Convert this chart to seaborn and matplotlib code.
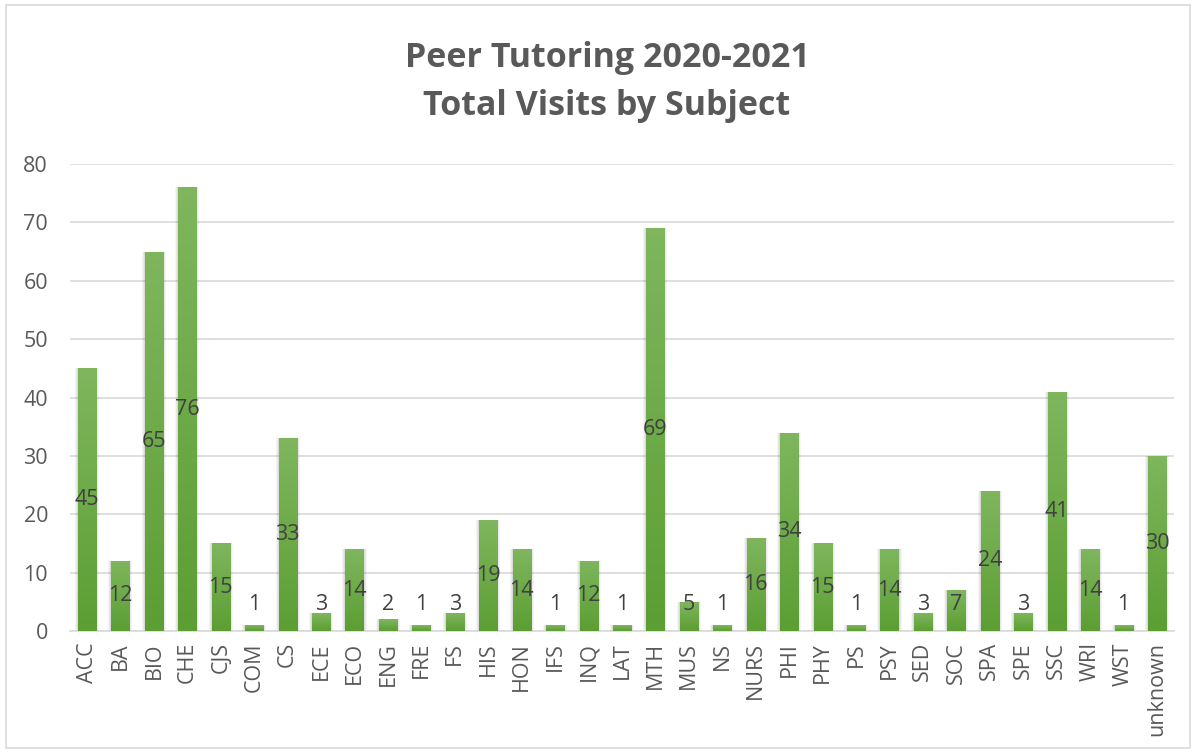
import numpy as np
import pandas as pd
import matplotlib
matplotlib.use("Agg")
import matplotlib.pyplot as plt
import seaborn as sns
from matplotlib.patches import Rectangle
from matplotlib.colors import LinearSegmentedColormap

subjects = ["ACC", "BA", "BIO", "CHE", "CJS", "COM", "CS", "ECE", "ECO", "ENG",
            "FRE", "FS", "HIS", "HON", "IFS", "INQ", "LAT", "MTH", "MUS", "NS",
            "NURS", "PHI", "PHY", "PS", "PSY", "SED", "SOC", "SPA", "SPE", "SSC",
            "WRI", "WST", "unknown"]
visits = [45, 12, 65, 76, 15, 1, 33, 3, 14, 2,
          1, 3, 19, 14, 1, 12, 1, 69, 5, 1,
          16, 34, 15, 1, 14, 3, 7, 24, 3, 41,
          14, 1, 30]
y_ticks = [0, 10, 20, 30, 40, 50, 60, 70, 80]

df = pd.DataFrame({"subject": subjects, "visits": visits})

sns.set_theme(style="white")
plt.rcParams["font.family"] = ["Open Sans", "DejaVu Sans"]

W, H = 1195, 753
fig = plt.figure(figsize=(W / 100, H / 100), dpi=100)
ax = fig.add_axes([70.3 / W, (H - 631) / H, (1173.7 - 70.3) / W, (631 - 164) / H])

sns.barplot(data=df, x="subject", y="visits", color="#70ad47", width=0.54,
            saturation=1, ax=ax, zorder=3)

# vertical gradient fill for each bar, with a soft shadow at its sides
grad = LinearSegmentedColormap.from_list("g", ["#5c9e33", "#7fb65e"])
gimg = np.linspace(0, 1, 256).reshape(-1, 1)
for p in list(ax.patches):
    x0, w, h = p.get_x(), p.get_width(), p.get_height()
    for k, a in enumerate([0.04, 0.05, 0.06]):
        pad = 0.03 * (3 - k)
        sh = Rectangle((x0 - pad, 0), w + 2 * pad, h,
                       facecolor="#000000", alpha=a, edgecolor="none", zorder=2)
        ax.add_patch(sh)
    p.set_facecolor("none")
    p.set_edgecolor("none")
    im = ax.imshow(gimg, cmap=grad, aspect="auto", origin="lower",
                   extent=(x0, x0 + w, 0, h), zorder=3)
    im.set_clip_path(p)

for i, v in enumerate(visits):
    ax.text(i, max(v / 2, 4.5), str(v), ha="center", va="center",
            fontsize=15.5, color="#404040", zorder=5)

ax.set_xlim(-0.5, len(subjects) - 0.5)
ax.set_ylim(0, 80)
ax.set_yticks(y_ticks)
ax.yaxis.grid(True, color="#d9d9d9", linewidth=1.2, zorder=0)
ax.set_axisbelow(True)
for s in ["top", "right", "left"]:
    ax.spines[s].set_visible(False)
ax.spines["bottom"].set_color("#d9d9d9")
ax.spines["bottom"].set_linewidth(1.2)
ax.tick_params(axis="x", rotation=90, labelsize=15.5, colors="#595959", length=0, pad=8)
ax.tick_params(axis="y", labelsize=15.5, colors="#595959", length=0, pad=16)
ax.set_xlabel("")
ax.set_ylabel("")

fig.text(0.508, 1 - 58 / H, "Peer Tutoring 2020-2021", ha="center", va="center",
         fontsize=24.5, fontweight="bold", color="#595959")
fig.text(0.508, 1 - 106 / H, "Total Visits by Subject", ha="center", va="center",
         fontsize=24.5, fontweight="bold", color="#595959")

fig.patches.append(Rectangle((6 / W, 5 / H), (1190 - 6) / W, (748 - 5) / H,
                             transform=fig.transFigure, facecolor="none",
                             edgecolor="#d9d9d9", linewidth=1.2))

fig.savefig("out.png", dpi=100, facecolor="white")
